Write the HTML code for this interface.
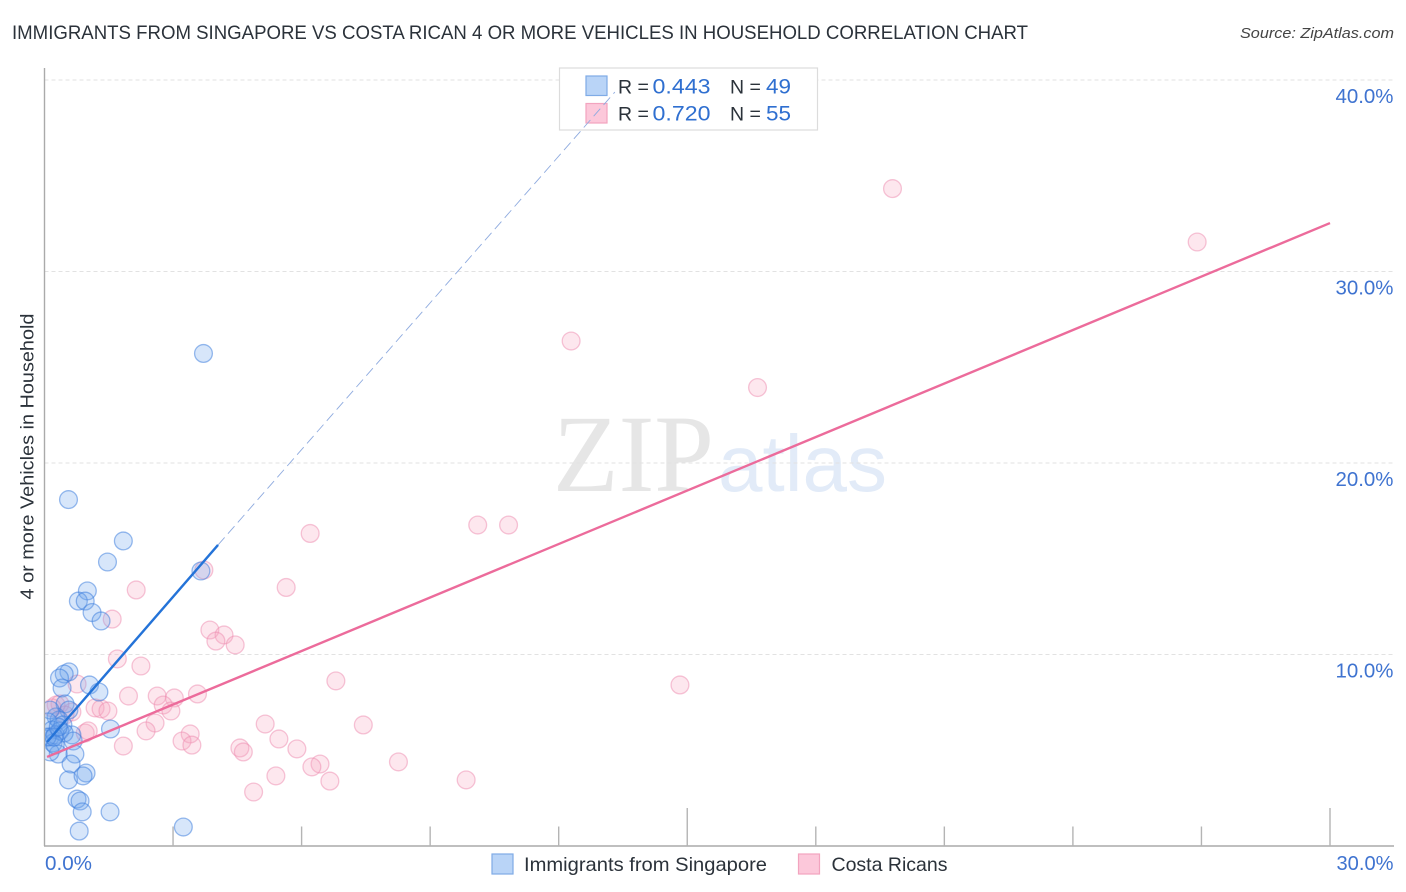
<!DOCTYPE html>
<html lang="en">
<head>
<meta charset="utf-8">
<title>Immigrants from Singapore vs Costa Rican 4 or More Vehicles in Household Correlation Chart</title>
<style>
html,body{margin:0;padding:0;background:#fff;width:1406px;height:892px;overflow:hidden}
svg{display:block;font-family:"Liberation Sans",sans-serif}
</style>
</head>
<body>
<svg id="chart" width="1406" height="892" viewBox="0 0 1406 892">
  <defs>
    <clipPath id="plot-clip"><rect x="45.2" y="60" width="1349" height="786"/></clipPath>
  </defs>
  <text x="12" y="39" font-size="19.5" fill="#2b323a" textLength="1016" lengthAdjust="spacingAndGlyphs">IMMIGRANTS FROM SINGAPORE VS COSTA RICAN 4 OR MORE VEHICLES IN HOUSEHOLD CORRELATION CHART</text>
  <text x="1394" y="38" font-size="15" font-style="italic" fill="#444" text-anchor="end" textLength="154" lengthAdjust="spacingAndGlyphs">Source: ZipAtlas.com</text>
  <text x="0" y="0" transform="translate(33.5,456.5) rotate(-90)" font-size="18.5" fill="#2b323a" text-anchor="middle" textLength="286" lengthAdjust="spacingAndGlyphs">4 or more Vehicles in Household</text>
  <g id="watermark">
    <text x="553" y="491" font-family="'Liberation Serif',serif" font-size="110" fill="#e6e6e6" textLength="161" lengthAdjust="spacingAndGlyphs">ZIP</text>
    <text x="718" y="491" font-size="80" fill="#e2ebf8" textLength="169" lengthAdjust="spacingAndGlyphs">atlas</text>
  </g>
  <g id="grid"></g>

  <g>
    <rect x="559.5" y="68" width="258" height="62" fill="#ffffff" stroke="#dcdcdc" stroke-width="1.2"/>
    <rect x="586" y="76" width="21" height="19.5" fill="#b9d4f7" stroke="#7fabe6" stroke-width="1.2"/>
    <rect x="586" y="103.5" width="21" height="19.5" fill="#fcc8da" stroke="#f2a4bf" stroke-width="1.2"/>
    <text x="618" y="93.5" font-size="19.5" fill="#2b323a">R =</text>
    <text x="652.5" y="93.5" font-size="21.5" fill="#2f6fd0" textLength="58" lengthAdjust="spacingAndGlyphs">0.443</text>
    <text x="730" y="93.5" font-size="19.5" fill="#2b323a">N =</text>
    <text x="766" y="93.5" font-size="21.5" fill="#2f6fd0" textLength="25" lengthAdjust="spacingAndGlyphs">49</text>
    <text x="618" y="120.5" font-size="19.5" fill="#2b323a">R =</text>
    <text x="652.5" y="120.5" font-size="21.5" fill="#2f6fd0" textLength="58" lengthAdjust="spacingAndGlyphs">0.720</text>
    <text x="730" y="120.5" font-size="19.5" fill="#2b323a">N =</text>
    <text x="766" y="120.5" font-size="21.5" fill="#2f6fd0" textLength="25" lengthAdjust="spacingAndGlyphs">55</text>
  </g>

  <g id="axes"></g>
  <g id="points" clip-path="url(#plot-clip)"></g>
  <g id="trends"></g>
  <g id="ylabels"></g>
  <g id="xlabels"></g>

  <g>
    <rect x="492" y="854" width="21" height="20" fill="#b9d4f7" stroke="#7fabe6" stroke-width="1.2"/>
    <text x="524" y="871" font-size="19.5" fill="#2b323a" textLength="243" lengthAdjust="spacingAndGlyphs">Immigrants from Singapore</text>
    <rect x="798.5" y="854" width="21" height="20" fill="#fcc8da" stroke="#f2a4bf" stroke-width="1.2"/>
    <text x="831.5" y="871" font-size="19.5" fill="#2b323a" textLength="116" lengthAdjust="spacingAndGlyphs">Costa Ricans</text>
  </g>
</svg>
<script>
// Chart data (percent values)
const singaporeX = [3.71,0.56,1.84,1.47,3.65,1.00,0.79,0.95,1.11,1.32,0.57,0.46,0.35,0.41,1.05,1.27,0.48,1.54,0.57,0.27,0.34,0.13,0.08,0.18,0.43,0.13,0.25,0.36,0.64,0.46,0.67,0.20,0.71,0.32,0.13,0.62,0.56,0.97,0.90,0.76,0.83,0.88,1.53,0.81,3.24,0.25,0.06,0.22,0.32];
const singaporeY = [25.72,18.09,15.93,14.83,14.36,13.32,12.79,12.79,12.19,11.75,9.09,8.98,8.77,8.25,8.41,8.04,7.42,6.11,7.10,6.74,6.58,7.10,6.48,6.06,6.32,5.69,5.80,6.01,5.80,5.90,5.48,5.38,4.80,4.80,4.91,4.28,3.45,3.81,3.66,2.45,2.35,1.78,1.78,0.78,0.99,5.27,5.69,5.69,6.21];
const costaRicaX = [19.79,26.90,12.29,16.64,10.11,10.83,6.20,3.72,5.64,2.14,1.58,3.86,4.19,4.00,4.45,1.70,2.25,6.80,14.83,0.76,1.96,2.63,3.03,3.57,2.77,2.95,1.18,1.32,1.48,0.64,0.27,2.58,5.15,7.44,2.37,0.95,1.02,3.40,3.21,3.44,1.84,5.47,4.56,4.64,5.89,8.26,6.43,6.24,5.40,6.66,9.84,4.88,0.36,0.48,0.18];
const costaRicaY = [34.33,31.54,26.37,23.94,16.76,16.76,16.32,14.41,13.50,13.37,11.85,11.28,11.02,10.70,10.50,9.77,9.40,8.62,8.41,8.46,7.83,7.83,7.73,7.94,7.36,7.05,7.21,7.16,7.05,7.00,7.36,6.42,6.37,6.32,6.01,5.90,6.01,5.85,5.48,5.27,5.22,5.59,5.12,4.91,5.07,4.39,4.28,4.13,3.66,3.39,3.45,2.82,7.42,6.84,7.21];
const singaporeTrendX = [0.06, 4.05];
const singaporeTrendY = [5.43, 15.72];
const singaporeProjectionX = [4.05, 13.31];
const singaporeProjectionY = [15.72, 39.37];
const costaRicaTrendX = [0.06, 30.0];
const costaRicaTrendY = [4.65, 32.53];
const yTickValues = [10, 20, 30, 40];
const yTickLabels = ['10.0%', '20.0%', '30.0%', '40.0%'];
const xTickValues = [3, 6, 9, 12, 15, 18, 21, 24, 27, 30];
const xMajorTicks = [15, 30];
const xEndLabels = ['0.0%', '30.0%'];

const NS = 'http://www.w3.org/2000/svg';
const sx = v => 44.5 + v * 42.85;
const sy = v => 846 - v * 19.15;

function make(tag, attrs, parent) {
  const el = document.createElementNS(NS, tag);
  for (const k in attrs) el.setAttribute(k, attrs[k]);
  parent.appendChild(el);
  return el;
}

const grid = document.getElementById('grid');
yTickValues.forEach(v => {
  const l = make('line', {x1: 44.5, x2: 1394, y1: sy(v), y2: sy(v), stroke: '#e2e2e2', 'stroke-width': 1, 'stroke-dasharray': '4 3'}, grid);
  
  
});

const axes = document.getElementById('axes');
const yAxis = make('line', {x1: 44.5, x2: 44.5, y1: 68, y2: 846, stroke: '#aaaaaa', 'stroke-width': 1.4}, axes);


const xAxis = make('line', {x1: 44, x2: 1394, y1: 846, y2: 846, stroke: '#aaaaaa', 'stroke-width': 1.4}, axes);


xTickValues.forEach(v => {
  const top = xMajorTicks.includes(v) ? 808 : 826.5;
  const t = make('line', {x1: sx(v), x2: sx(v), y1: top, y2: 846, stroke: '#b4b4b4', 'stroke-width': 1.4}, axes);
  
  
});

const points = document.getElementById('points');
costaRicaX.forEach((v, i) => {
  const c = make('circle', {cx: sx(v), cy: sy(costaRicaY[i]), r: 8.9, fill: 'rgba(248,165,192,0.27)', stroke: 'rgba(238,140,175,0.5)', 'stroke-width': 1.3}, points);
  
  
});
singaporeX.forEach((v, i) => {
  const c = make('circle', {cx: sx(v), cy: sy(singaporeY[i]), r: 8.9, fill: 'rgba(110,165,238,0.28)', stroke: 'rgba(60,125,220,0.52)', 'stroke-width': 1.3}, points);
  
  
});

const trends = document.getElementById('trends');
const proj = make('line', {x1: sx(singaporeProjectionX[0]), y1: sy(singaporeProjectionY[0]), x2: sx(singaporeProjectionX[1]), y2: sy(singaporeProjectionY[1]), stroke: '#8fabdf', 'stroke-width': 0.9, 'stroke-dasharray': '10 5'}, trends);


const trendS = make('line', {x1: sx(singaporeTrendX[0]), y1: sy(singaporeTrendY[0]), x2: sx(singaporeTrendX[1]), y2: sy(singaporeTrendY[1]), stroke: '#2473d8', 'stroke-width': 2.4}, trends);


const trendC = make('line', {x1: sx(costaRicaTrendX[0]), y1: sy(costaRicaTrendY[0]), x2: sx(costaRicaTrendX[1]), y2: sy(costaRicaTrendY[1]), stroke: '#ec6b9b', 'stroke-width': 2.4}, trends);



const ylabels = document.getElementById('ylabels');
yTickValues.forEach((v, i) => {
  const t = make('text', {x: 1393.5, y: sy(v) + 23, 'font-size': 20, fill: '#3f73d0', 'text-anchor': 'end', textLength: 58, lengthAdjust: 'spacingAndGlyphs'}, ylabels);
  t.textContent = yTickLabels[i];
  
  
});

const xlabels = document.getElementById('xlabels');
const x0 = make('text', {x: 45, y: 870, 'font-size': 20, fill: '#3f73d0', textLength: 47, lengthAdjust: 'spacingAndGlyphs'}, xlabels);
x0.textContent = xEndLabels[0];


const x1 = make('text', {x: 1393.5, y: 870, 'font-size': 20, fill: '#3f73d0', 'text-anchor': 'end', textLength: 57, lengthAdjust: 'spacingAndGlyphs'}, xlabels);
x1.textContent = xEndLabels[1];


</script>
</body>
</html>
